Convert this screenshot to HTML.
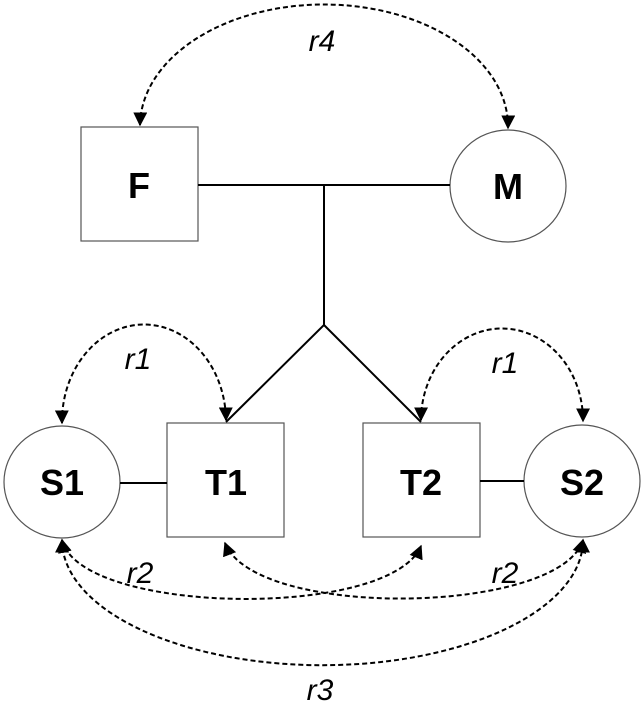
<!DOCTYPE html>
<html><head><style>body{margin:0;background:#fff}svg{display:block}</style></head><body>
<svg width="642" height="709" viewBox="0 0 642 709" xmlns="http://www.w3.org/2000/svg">
<defs><marker id="a" viewBox="0 0 10 10" refX="9" refY="5" markerWidth="7" markerHeight="7" orient="auto-start-reverse"><path d="M0,0L10,5L0,10z" fill="#000"/></marker></defs>
<g fill="#fff" stroke="#555" stroke-width="1.2">
<rect x="81" y="127" width="117" height="114"/>
<ellipse cx="508" cy="186" rx="58" ry="56"/>
<ellipse cx="62" cy="482" rx="58" ry="56"/>
<rect x="167" y="423" width="117" height="114"/>
<rect x="363" y="423" width="117" height="114"/>
<ellipse cx="582" cy="481" rx="58" ry="56"/>
</g>
<g stroke="#000" stroke-width="2" fill="none">
<path d="M198,185H450M324,186V325L226,422M324,325L421,422"/>
<path d="M120,483H167M480,481H524"/>
</g>
<g stroke="#000" stroke-width="2" fill="none" stroke-dasharray="5,3" marker-start="url(#a)" marker-end="url(#a)">
<path d="M140,125A184,122 0 0 1 508,128"/>
<path d="M62,423A82,97 0 0 1 226,420"/>
<path d="M421,420A81,92 0 0 1 583,421"/>
<path d="M62,540C80,615 390,620 421,546"/>
<path d="M225,543C255,620 560,615 583,540"/>
<path d="M62,540A260,125 0 0 0 583,540"/>
</g>
<g font-family="Liberation Sans, sans-serif" font-size="30" font-style="italic" text-anchor="middle">
<text x="322" y="51">r4</text>
<text x="138" y="369">r1</text>
<text x="505" y="373">r1</text>
<text x="140" y="583">r2</text>
<text x="505" y="583">r2</text>
<text x="320" y="700">r3</text>
</g>
<g font-family="Liberation Sans, sans-serif" font-size="36" font-weight="bold" text-anchor="middle">
<text x="139" y="198">F</text>
<text x="508" y="199">M</text>
<text x="62" y="495">S1</text>
<text x="226" y="495">T1</text>
<text x="421" y="495">T2</text>
<text x="582" y="495">S2</text>
</g>
</svg>
</body></html>
